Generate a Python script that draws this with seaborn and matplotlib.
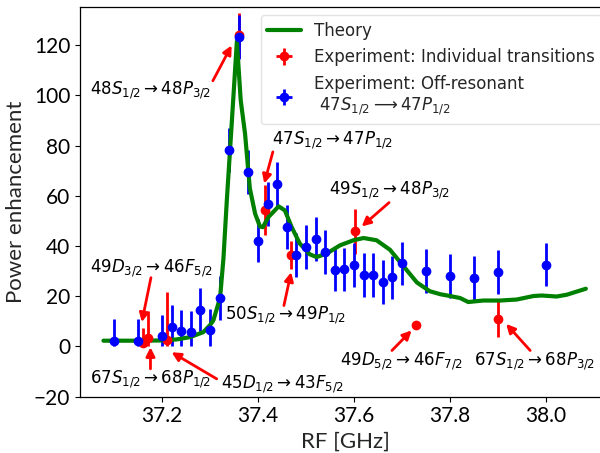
import numpy as np
import pandas as pd
import matplotlib
matplotlib.use("Agg")
import matplotlib.pyplot as plt
import seaborn as sns

# ---------------- data ----------------
theory_rf = [37.078, 37.15, 37.20, 37.23, 37.258, 37.286, 37.300, 37.307, 37.321, 37.328,
             37.335, 37.345, 37.356, 37.364, 37.373, 37.383, 37.394, 37.404, 37.410, 37.422,
             37.443, 37.456, 37.470, 37.487, 37.508, 37.522, 37.543, 37.571, 37.599, 37.620,
             37.647, 37.675, 37.703, 37.731, 37.758, 37.780, 37.800, 37.821, 37.838, 37.869,
             37.904, 37.939, 37.974, 37.991, 38.022, 38.043, 38.083]
theory_val = [2.3, 2.3, 2.4, 2.8, 3.7, 5.7, 8.5, 10.4, 19.4, 35.0,
              58.0, 88.0, 121.5, 98.0, 84.8, 63.0, 52.9, 47.8, 47.5, 51.6,
              55.8, 54.2, 47.6, 41.0, 36.7, 35.6, 37.0, 40.3, 42.3, 43.2,
              42.3, 38.5, 32.0, 25.5, 22.0, 20.8, 20.1, 19.3, 17.7, 18.3,
              18.3, 18.7, 20.1, 20.3, 19.9, 20.6, 23.0]

ind_rf = [37.160, 37.171, 37.210, 37.360, 37.415, 37.469, 37.603, 37.730, 37.900]
ind_val = [1.3, 3.5, 2.7, 124.0, 54.2, 36.5, 45.9, 8.5, 11.0]
ind_err = [6.0, 10.5, 19.0, 9.0, 10.0, 5.5, 9.0, 0.0, 7.2]

off_rf = [37.10, 37.15, 37.20, 37.22, 37.24, 37.26, 37.28, 37.30, 37.32, 37.34,
          37.36, 37.38, 37.40, 37.42, 37.44, 37.46, 37.48, 37.50, 37.52, 37.54,
          37.56, 37.58, 37.60, 37.62, 37.64, 37.66, 37.68, 37.70, 37.75, 37.80,
          37.85, 37.90, 38.00]
off_val = [2.3, 2.3, 4.0, 7.7, 6.0, 5.6, 14.5, 6.4, 19.4, 78.3,
           123.3, 69.5, 42.2, 56.8, 64.6, 47.6, 36.5, 39.6, 42.8, 37.6,
           30.6, 30.7, 32.5, 28.5, 28.5, 25.6, 27.5, 33.1, 30.0, 28.2,
           27.4, 29.6, 32.6]
off_err = 8.7

labels_text = [r"$48S_{1/2} \rightarrow 48P_{3/2}$",
               r"$47S_{1/2} \rightarrow 47P_{1/2}$",
               r"$49S_{1/2} \rightarrow 48P_{3/2}$",
               r"$49D_{3/2} \rightarrow 46F_{5/2}$",
               r"$67S_{1/2} \rightarrow 68P_{1/2}$",
               r"$45D_{1/2} \rightarrow 43F_{5/2}$",
               r"$50S_{1/2} \rightarrow 49P_{1/2}$",
               r"$49D_{5/2} \rightarrow 46F_{7/2}$",
               r"$67S_{1/2} \rightarrow 68P_{3/2}$"]
label_pos = [(37.176, 102.0), (37.556, 82.1), (37.675, 62.2), (37.178, 31.0),
             (37.177, -12.9), (37.451, -14.9), (37.458, 12.4), (37.700, -6.0),
             (37.976, -6.0)]
arrow_tail = [(37.306, 105.8), (37.431, 77.5), (37.673, 57.3), (37.177, 27.4),
              (37.176, -8.9), (37.314, -12.9), (37.454, 16.3), (37.679, -1.6),
              (37.967, -1.6)]
arrow_head = [(37.345, 119.9), (37.413, 64.9), (37.616, 47.8), (37.158, 9.7),
              (37.176, -0.3), (37.220, -2.3), (37.469, 29.6), (37.720, 6.4),
              (37.917, 9.0)]

xticks = [37.2, 37.4, 37.6, 37.8, 38.0]
yticks = [-20, 0, 20, 40, 60, 80, 100, 120]

# ---------------- plot ----------------
sns.set_theme(style="ticks")
plt.rcParams["font.family"] = ["DejaVu Sans"]
plt.rcParams["mathtext.fontset"] = "dejavusans"

fig = plt.figure(figsize=(6.0, 4.53), dpi=100)
ax = fig.add_axes([80 / 600, 56.3 / 453, 530 / 600, 389.7 / 453])

ind_val_a = np.array(ind_val)
ind_err_a = np.array(ind_err)
off_val_a = np.array(off_val)
off_err_a = np.full(len(off_val), off_err)

ax.errorbar(ind_rf, ind_val,
            yerr=[np.minimum(ind_err_a, ind_val_a), ind_err_a],
            xerr=np.zeros(len(ind_rf)),
            fmt="o", color="red", ecolor="red", elinewidth=2, markersize=6,
            label="Experiment: Individual transitions")
ax.errorbar(off_rf, off_val,
            yerr=[np.minimum(off_err_a, off_val_a), off_err_a],
            xerr=np.zeros(len(off_rf)),
            fmt="o", color="blue", ecolor="blue", elinewidth=2, markersize=6,
            label="Experiment: Off-resonant\n" + r" $47S_{1/2} \longrightarrow 47P_{1/2}$")

df = pd.DataFrame({"rf": theory_rf, "val": theory_val})
sns.lineplot(data=df, x="rf", y="val", color="green", lw=3, ax=ax,
             label="Theory", sort=False)

for txt, pos, tail, head in zip(labels_text, label_pos, arrow_tail, arrow_head):
    ax.annotate("", xy=head, xytext=tail,
                arrowprops=dict(arrowstyle="-|>", color="red", lw=2,
                                mutation_scale=13, shrinkA=0, shrinkB=0))
    ax.text(pos[0], pos[1], txt, ha="center", va="center", fontsize=12,
            color="black")

ax.set_xlim(37.0292, 38.1333)
ax.set_ylim(-20, 135.2)
ax.set_xticks(xticks)
ax.set_yticks(yticks)
ax.set_xticklabels([f"{t:.1f}" for t in xticks], family="Lato", fontsize=15)
ax.set_yticklabels([f"{t}".replace("-", "\u2212") for t in yticks],
                   family=["Lato", "DejaVu Sans"], fontsize=15)
ax.set_xlabel("RF [GHz]", family="Lato", fontsize=16, labelpad=4)
ax.set_ylabel("Power enhancement", family="Lato", fontsize=16, labelpad=6)
ax.tick_params(axis="both", direction="out", length=3.5, width=0.8, colors="black")
for s in ax.spines.values():
    s.set_color("black")
    s.set_linewidth(0.9)

leg = ax.legend(loc="upper right", fontsize=12, frameon=True, fancybox=True,
                framealpha=0.8, edgecolor="#dddddd", borderaxespad=0.5)

fig.savefig("out.png", dpi=100)
